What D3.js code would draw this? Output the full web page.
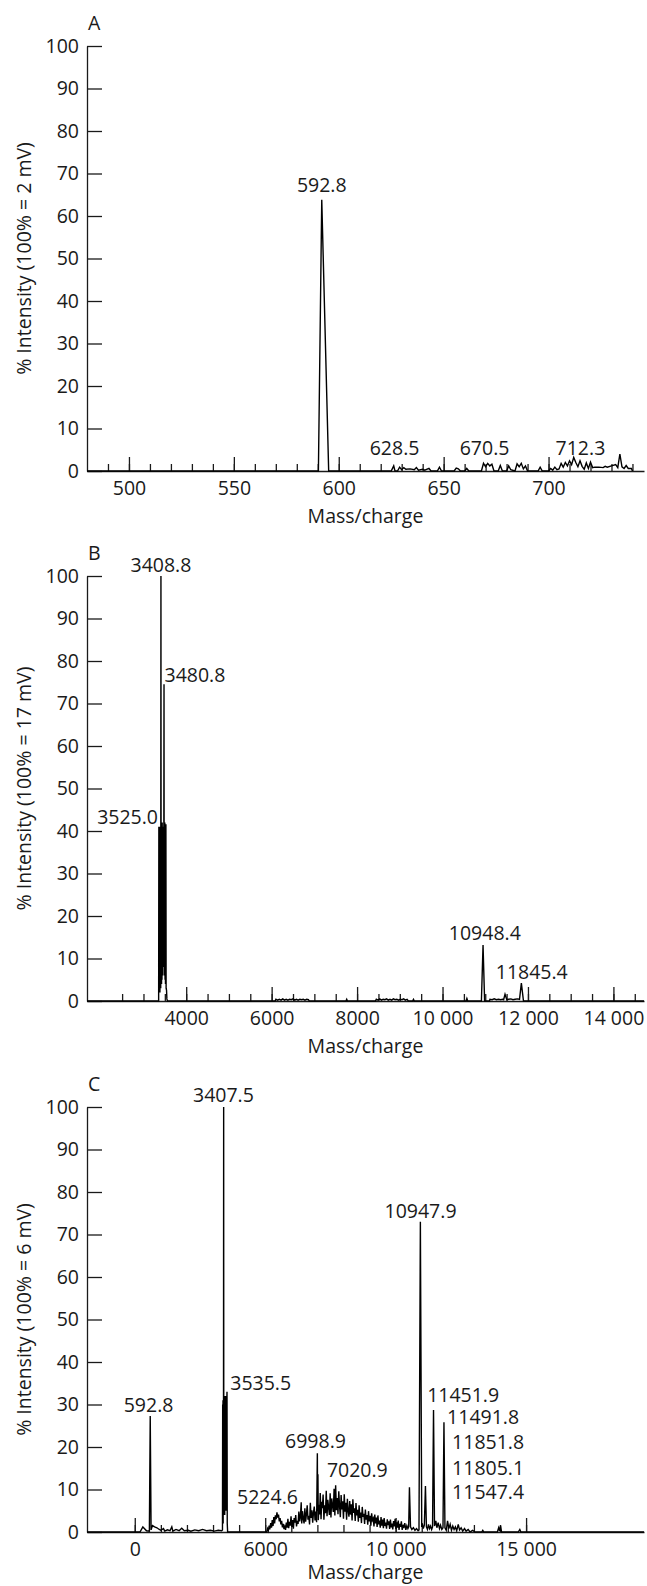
<!DOCTYPE html>
<html>
<head>
<meta charset="utf-8">
<script src="https://cdnjs.cloudflare.com/ajax/libs/d3/7.8.5/d3.min.js"></script>
<style>
body{margin:0;background:#fff;}
text{font-family:"Open Sans",Lato,sans-serif;fill:#1a1a1a;}
</style>
</head>
<body>
<div id="chart"></div>
<script>
// spectra: [mass/charge, % intensity]
var spectrumA=[[480,0],[585,0],[590.3,0],[591.9,63.8],[595.2,0],[625,0],[626.2,1.2],[626.8,0],[628,0],[629,0.9],[630,0.3],
 [631,0.8],[632,0.4],[634,0.5],[636,0.3],[637,0.8],[638,0.2],[640,0.4],[641,0.2],[643,0.6],[644,0],[647,0],[648,0.9],[649,0],
 [655,0],[656,0.7],[657,0.5],[658,0],[660,0],[661,0.6],[662,0],[668,0],[669,1.8],[670,1.0],[671,1.8],[672,1.2],[673,1.6],[674,0],
 [676,0],[677,1.3],[678,0],[680,0],[681,1.2],[682,0.3],[684,0],[685,1.7],[686,1.0],[687,1.8],[688,0.5],[689,1.2],[690,0],[695,0],
 [696,0.9],[697,0],[700,0],[701,0.6],[702,0.2],[703,0.9],[704,0.3],[705,0.5],[706,1.8],[707,0.9],[708,2.0],[709,1.2],[710,2.4],
 [711,1.5],[712,3.2],[713,2.0],[714,1.0],[715,2.4],[716,1.1],[717,0.4],[718,1.9],[719,0.6],[720,2.1],[721,0.8],[722,0.9],[724,0.9],
 [726,0.8],[727,1.1],[728,0.9],[730,1.2],[732,1.5],[733,0.8],[734,4.0],[735,1.0],[736,0.6],[737,1.3],[738,0.6],[739.5,0.6],[740,0]];

var spectrumB=[[1678,0],[3340,0],[3355,0],[3360,41],[3365,2],[3370,40],[3375,3],[3380,41],[3385,2],[3390,40],[3395,4],[3400,41],
 [3404,3],[3408.8,100],[3413,6],[3418,40],[3423,4],[3428,41],[3433,5],[3438,42],[3443,8],[3448,41],[3453,6],[3458,40],[3463,9],
 [3468,41],[3473,10],[3477,40],[3480.8,74.5],[3485,8],[3490,41],[3495,6],[3500,42],[3505,5],[3510,41],[3515,4],[3520,41.4],
 [3525,41.4],[3530,3],[3540,2.5],[3548,0.5],[3560,0],
 [6080,0],[6100,0.4],[6140,0.2],[6180,0.4],[6220,0.2],[6260,0.5],[6300,0.2],[6340,0.4],[6380,0.2],[6420,0.4],[6460,0.3],
 [6500,0.5],[6540,0.2],[6580,0.4],[6620,0.2],[6660,0.4],[6700,0.3],[6740,0.4],[6780,0.2],[6820,0.4],[6860,0.3],[6880,0],
 [7740,0],[7757,0.4],[7775,0],[8430,0],[8450,0.4],[8490,0.2],[8530,0.5],[8570,0.2],[8610,0.4],[8650,0.3],[8690,0.5],[8730,0.2],
 [8770,0.4],[8810,0.2],[8850,0.5],[8890,0.3],[8930,0.4],[8970,0.2],[9010,0.4],[9050,0.3],[9090,0.5],[9130,0.2],[9170,0.4],
 [9200,0],[9300,0],[9320,0.4],[9340,0],[10550,0],[10570,0.6],[10590,0],[10910,0],[10948.4,13.2],[10985,0],[11100,0],
 [11110,0.4],[11160,0.3],[11210,0.5],[11260,0.3],[11310,0.4],[11360,0.3],[11410,0.4],[11430,0.3],[11463,1.6],[11505,0.3],
 [11550,0.4],[11600,0.5],[11650,0.3],[11700,0.4],[11750,0.5],[11802,0.4],[11845.4,4.2],[11895,0],[14716,0]];

var spectrumC=[[-1831,0],[200,0],[310,1.2],[450,0.3],[560,0.2],[592.8,27.3],[625,0.5],[680,1.5],[760,1.2],[850,1.0],[940,0.6],
 [1000,0.4],[1100,0.8],[1150,0.2],[1250,0.5],[1350,0.3],[1420,1.2],[1460,0.2],[1580,0.6],[1700,0.3],[1800,0.9],[1900,0.3],
 [2050,0.4],[2150,0.2],[2300,0.5],[2450,0.3],[2600,0.6],[2750,0.3],[2900,0.4],[3050,0.2],[3200,0.4],[3330,0.3],[3362,0.5],
 [3370,30],[3376,3],[3382,31],[3388,2],[3394,30],[3400,4],[3407.5,100],[3412,10],[3418,30],[3424,5],[3430,31],[3436,6],
 [3442,32],[3448,4],[3454,30],[3460,8],[3466,31],[3472,5],[3478,32],[3484,6],[3490,31],[3496,5],[3502,32],[3508,6],[3514,31],
 [3520,6],[3526,30],[3535.5,33],[3545,2],[3560,0],
 [5060,0],[5090,0.8],[5120,0.3],[5150,1.5],[5175,0.6],[5210,2.1],[5240,1.0],[5270,2.8],[5300,1.4],[5330,3.5],[5360,2.0],
 [5390,3.9],[5420,3.0],[5450,4.6],[5480,3.4],[5510,4.1],[5540,2.5],[5570,3.3],[5600,1.8],[5630,2.6],[5660,1.1],[5690,1.9],
 [5720,0.7],[5750,1.3],[5780,0.5],[5810,2.2],[5840,1.0],[5870,3.1],[5900,0.9],[5930,2.4],[5960,1.5],[5990,3.7],[6020,1.2],
 [6050,2.8],[6080,0.8],[6110,3.3],[6140,2.2],[6170,4.0],[6200,1.3],[6230,2.6],[6260,1.9],[6290,4.8],[6320,2.5],[6350,3.6],
 [6380,7.0],[6400,2.0],[6430,4.9],[6460,3.1],[6490,2.0],[6520,5.6],[6550,2.4],[6580,4.2],[6610,6.3],[6640,2.9],[6670,3.8],
 [6700,1.8],[6730,6.9],[6760,3.3],[6790,5.1],[6820,2.2],[6850,4.5],[6880,6.0],[6910,2.7],[6940,4.8],[6970,2.3],[6998.9,18.5],
 [7008,5.0],[7020.9,13.6],[7035,2.8],[7060,6.4],[7085,4.1],[7110,9.2],[7140,3.0],[7165,7.1],[7190,5.6],[7220,8.8],[7250,2.9],
 [7280,6.3],[7310,4.4],[7340,9.7],[7370,3.7],[7400,7.6],[7430,5.8],[7460,4.0],[7490,9.1],[7520,3.4],[7550,7.9],[7580,6.2],
 [7610,4.7],[7640,10.2],[7670,3.9],[7700,11.0],[7730,5.1],[7760,8.0],[7790,4.2],[7820,9.6],[7850,6.1],[7880,3.5],[7910,8.7],
 [7940,5.3],[7970,7.2],[8000,3.1],[8030,8.9],[8060,4.8],[8090,6.9],[8120,2.9],[8150,7.8],[8180,5.0],[8210,3.6],[8240,7.3],
 [8270,4.1],[8300,6.5],[8330,2.7],[8360,7.7],[8390,4.5],[8420,5.6],[8450,2.6],[8480,6.8],[8510,3.9],[8540,5.2],[8570,2.4],
 [8600,6.3],[8630,3.3],[8660,4.6],[8690,2.1],[8720,5.9],[8750,3.6],[8780,4.3],[8810,1.9],[8840,5.3],[8870,2.9],[8900,4.0],
 [8930,1.7],[8960,4.9],[8990,2.5],[9020,3.8],[9050,1.5],[9080,4.4],[9110,2.8],[9140,3.2],[9170,1.3],[9200,4.1],[9230,2.0],
 [9260,3.4],[9290,1.2],[9320,3.9],[9350,1.8],[9380,2.7],[9410,1.0],[9440,3.5],[9470,1.5],[9500,2.9],[9530,0.9],[9560,3.3],
 [9590,1.4],[9620,2.2],[9650,0.8],[9680,3.0],[9710,1.6],[9740,2.5],[9770,0.7],[9800,2.9],[9830,1.1],[9860,2.0],[9890,0.6],
 [9920,2.6],[9950,1.3],[9980,3.1],[10010,0.7],[10040,2.3],[10070,1.0],[10100,2.7],[10130,0.5],[10160,1.9],[10190,1.2],
 [10220,2.5],[10250,0.5],[10280,1.7],[10310,0.9],[10350,2.1],[10390,0.5],[10430,1.5],[10470,0.8],[10500,1.2],[10529,10.5],
 [10570,1.2],[10620,0.6],[10680,1.0],[10740,0.4],[10800,0.8],[10860,0.3],[10895,0.5],[10947.9,73],[11000,1.2],[11020,2.0],
 [11060,0.8],[11100,1.6],[11142,10.8],[11180,1.2],[11220,0.6],[11260,1.8],[11300,0.8],[11340,1.4],[11380,0.6],[11415,1.2],
 [11451.9,28.7],[11490,1.4],[11540,2.6],[11580,1.0],[11630,2.2],[11680,0.8],[11720,1.6],[11770,0.6],[11815,1.0],[11851.8,25.8],
 [11890,1.0],[11940,0.4],[11990,2.6],[12040,0.8],[12090,1.8],[12140,0.4],[12190,1.4],[12240,0.6],[12290,1.2],[12340,0.3],
 [12400,1.8],[12450,0.5],[12510,1.0],[12570,0.2],[12640,0.8],[12700,0.2],[12780,0.6],[12850,0],[12950,0.4],[13050,0],[13300,0],
 [13340,0.4],[13380,0],[13900,0],[13950,1.0],[13990,0.2],[14020,1.5],[14060,0],[14700,0],[14760,0.6],[14800,0],[19520,0]];

// peak labels: [text, mass/charge, % intensity, anchor]
var labelsA=[["592.8",591.9,67.3,"middle"],["628.5",626.6,5.3,"middle"],["670.5",669.5,5.3,"middle"],["712.3",715.2,5.3,"middle"]];
var labelsB=[["3408.8",3408.8,102.6,"middle"],["3480.8",3492,76.7,"start"],["3525.0",3340,43.3,"end"],
 ["10948.4",10990,16.0,"middle"],["11845.4",12089,6.9,"middle"]];
var labelsC=[["3407.5",3400,102.8,"middle"],["592.8",529,29.9,"middle"],["3535.5",3660,35.1,"start"],["5224.6",5088,8.3,"middle"],
 ["6998.9",6927,21.4,"middle"],["7020.9",7364,14.6,"start"],["10947.9",10954,75.5,"middle"],["11451.9",11207,32.2,"start"],
 ["11491.8",11973,27.1,"start"],["11851.8",12165,21.2,"start"],["11805.1",12165,15.0,"start"],["11547.4",12165,9.5,"start"]];

var yTicks=[0,10,20,30,40,50,60,70,80,90,100];
var majorA=[500,550,600,650,700], minorA=d3.range(490,741,10);
var majorB=[4000,6000,8000,10000,12000,14000], minorB=d3.range(2500,14501,500);
var majorC=[0,5000,10000,15000], minorC=d3.range(0,15001,1000);
var tickTextB=["4000","6000","8000","10 000","12 000","14 000"];
var tickTextC=["0","6000","10 000","15 000"];

var svgW=647, svgH=1586;
var axisL=87, axisR=644, panelH=425, fs=19.5;
var ink='#1a1a1a';

var panels=[
 {letter:"A",bottom:471,dom:[480,745.5],data:spectrumA,labels:labelsA,major:majorA,minor:minorA,
  fmt:function(d){return d;},ylab:"% Intensity (100% = 2 mV)"},
 {letter:"B",bottom:1001,dom:[1678,14716],data:spectrumB,labels:labelsB,major:majorB,minor:minorB,
  fmt:function(d,i){return tickTextB[i];},ylab:"% Intensity (100% = 17 mV)"},
 {letter:"C",bottom:1532,dom:[-1831,19520],data:spectrumC,labels:labelsC,major:majorC,minor:minorC,
  fmt:function(d,i){return tickTextC[i];},ylab:"% Intensity (100% = 6 mV)"}
];

var svg=d3.select('#chart').append('svg')
    .attr('width',svgW)
    .attr('height',svgH);

panels.forEach(function(p){
    var g=svg.append('g');
    var x=d3.scaleLinear().domain(p.dom).range([axisL,axisR]);
    var y=d3.scaleLinear().domain([0,100]).range([p.bottom,p.bottom-panelH]);

    // minor x ticks, no labels
    var xmin=g.append('g')
        .attr('transform',`translate(0,${p.bottom})`)
        .call(d3.axisBottom(x).tickValues(p.minor).tickSizeInner(-7).tickSizeOuter(0).tickFormat(''));
    xmin.select('.domain').remove();

    // major x ticks with labels
    g.append('g')
        .attr('transform',`translate(0,${p.bottom})`)
        .call(d3.axisBottom(x).tickValues(p.major).tickSizeInner(-14).tickSizeOuter(0).tickPadding(10).tickFormat(p.fmt));

    g.append('g')
        .attr('transform',`translate(${axisL},0)`)
        .call(d3.axisLeft(y).tickValues(yTicks).tickSizeInner(-15).tickSizeOuter(0).tickPadding(8));

    g.selectAll('.tick text').attr('font-size',fs).attr('font-family','"Open Sans", Lato, sans-serif').attr('fill',ink);
    g.selectAll('path.domain').attr('stroke',ink).attr('stroke-width',1.3);
    g.selectAll('.tick line').attr('stroke',ink).attr('stroke-width',1.3);

    // spectrum trace
    var line=d3.line().x(d=>x(d[0])).y(d=>y(d[1]));
    g.append('path')
        .datum(p.data)
        .attr('d',line)
        .attr('fill','none')
        .attr('stroke','#000')
        .attr('stroke-width',1.4);

    // peak labels
    g.selectAll('text.peak')
        .data(p.labels)
        .enter()
        .append('text')
        .classed('peak',true)
        .attr('x',d=>x(d[1]))
        .attr('y',d=>y(d[2]))
        .attr('dy','0.36em')
        .attr('text-anchor',d=>d[3])
        .attr('font-size',fs)
        .text(d=>d[0]);

    // panel letter
    g.append('text')
        .attr('x',axisL+1)
        .attr('y',y(105.3))
        .attr('dy','0.36em')
        .attr('font-size',fs)
        .text(p.letter);

    // axis titles
    g.append('text')
        .attr('transform',`translate(24,${y(50)}) rotate(-90)`)
        .attr('text-anchor','middle')
        .attr('dy','0.36em')
        .attr('font-size',fs)
        .text(p.ylab);
    g.append('text')
        .attr('x',(axisL+axisR)/2)
        .attr('y',Math.min(p.bottom+52,svgH-7))
        .attr('text-anchor','middle')
        .attr('font-size',fs)
        .text('Mass/charge');
});
</script>
</body>
</html>
